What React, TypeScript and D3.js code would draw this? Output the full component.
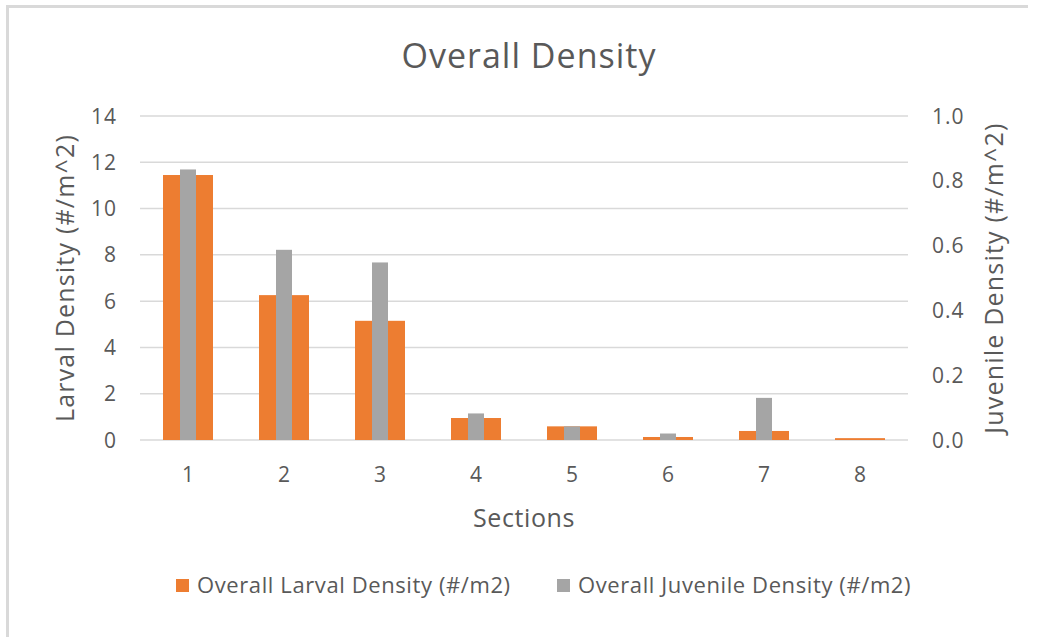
import React from "react";
import * as d3 from "d3";

const sections = ["1", "2", "3", "4", "5", "6", "7", "8"];
const larvalDensity = [11.45, 6.26, 5.15, 0.95, 0.59, 0.13, 0.39, 0.08];
const juvenileDensity = [0.835, 0.587, 0.548, 0.082, 0.042, 0.02, 0.13, 0];
const leftTicks = [0, 2, 4, 6, 8, 10, 12, 14];
const rightTicks = [0, 0.2, 0.4, 0.6, 0.8, 1.0];

const W = 1039;
const H = 637;
const FONT = "'Open Sans', sans-serif";
const TEXT = "#595959";
const ORANGE = "#ED7D31";
const GRAY = "#A5A5A5";
const GRID = "#D9D9D9";

export default function App() {
  const plot = { left: 140, right: 908, top: 116, bottom: 440 };
  const x = d3.scaleBand<string>().domain(sections).range([plot.left, plot.right]).paddingInner(0).paddingOuter(0);
  const yL = d3.scaleLinear().domain([0, 14]).range([plot.bottom, plot.top]);
  const yR = d3.scaleLinear().domain([0, 1]).range([plot.bottom, plot.top]);
  const bw = 50;
  const gw = 16;
  const cx = (s: string) => (x(s) as number) + x.bandwidth() / 2;

  return (
    <svg width={W} height={H} style={{ position: "absolute", left: 0, top: 0, display: "block" }} fontFamily={FONT}>
      <rect x={0} y={0} width={W} height={H} fill="#fff" />
      <path d={`M7.5,${H}V6.5H1028`} fill="none" stroke={GRID} strokeWidth={3} />
      <text x={529} y={68} textAnchor="middle" fontSize={34} letterSpacing={1} fill={TEXT}>Overall Density</text>

      {leftTicks.map((t) => (
        <line key={"g" + t} x1={plot.left} x2={plot.right} y1={yL(t)} y2={yL(t)} stroke={GRID} strokeWidth={1.5} />
      ))}
      {leftTicks.map((t) => (
        <text key={"l" + t} x={117} y={yL(t)} dy="0.36em" textAnchor="end" fontSize={21} letterSpacing={1} fill={TEXT}>{t}</text>
      ))}
      {rightTicks.map((t) => (
        <text key={"r" + t} x={932} y={yR(t)} dy="0.36em" textAnchor="start" fontSize={21} letterSpacing={1} fill={TEXT}>{d3.format(".1f")(t)}</text>
      ))}
      {sections.map((s, i) => (
        <rect key={"o" + s} x={cx(s) - bw / 2} y={yL(larvalDensity[i])} width={bw} height={plot.bottom - yL(larvalDensity[i])} fill={ORANGE} />
      ))}
      {sections.map((s, i) => (
        <rect key={"j" + s} x={cx(s) - gw / 2} y={yR(juvenileDensity[i])} width={gw} height={plot.bottom - yR(juvenileDensity[i])} fill={GRAY} />
      ))}
      {sections.map((s) => (
        <text key={"x" + s} x={cx(s)} y={482} textAnchor="middle" fontSize={21} fill={TEXT}>{s}</text>
      ))}
      <text x={524} y={527} textAnchor="middle" fontSize={25} letterSpacing={0.6} fill={TEXT}>Sections</text>
      <text transform={`translate(65,${(plot.top + plot.bottom) / 2}) rotate(-90)`} dy="0.36em" textAnchor="middle" fontSize={25} letterSpacing={1.2} fill={TEXT}>Larval Density (#/m^2)</text>
      <text transform={`translate(994,${(plot.top + plot.bottom) / 2}) rotate(-90)`} dy="0.36em" textAnchor="middle" fontSize={25} letterSpacing={1.2} fill={TEXT}>Juvenile Density (#/m^2)</text>

      <rect x={176} y={579} width={13} height={13} fill={ORANGE} />
      <text x={197} y={585} dy="0.36em" fontSize={22} letterSpacing={0.6} fill={TEXT}>Overall Larval Density (#/m2)</text>
      <rect x={557} y={579} width={13} height={13} fill={GRAY} />
      <text x={578} y={585} dy="0.36em" fontSize={22} letterSpacing={0.6} fill={TEXT}>Overall Juvenile Density (#/m2)</text>
    </svg>
  );
}
